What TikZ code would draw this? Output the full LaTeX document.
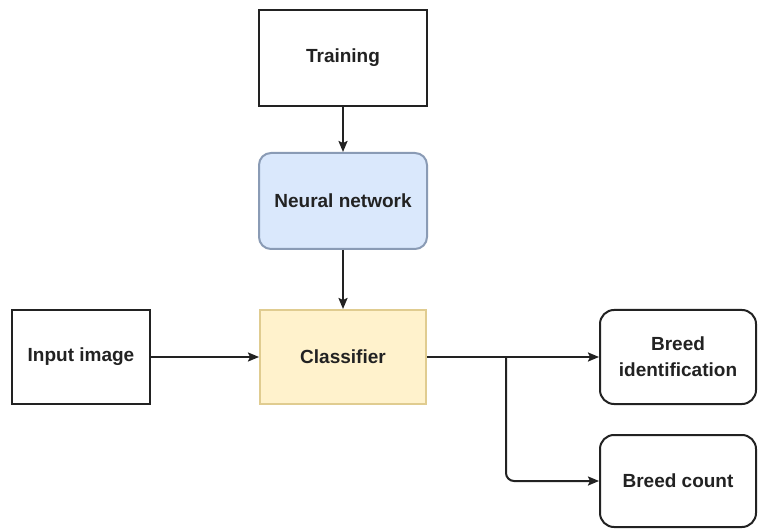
\documentclass[tikz,border=0pt]{standalone}
\usepackage{fontspec}
\setmainfont{Liberation Sans}
\usetikzlibrary{arrows.meta}
\definecolor{nnfill}{HTML}{DAE8FC}
\definecolor{nnline}{HTML}{8A9BB5}
\definecolor{clfill}{HTML}{FFF2CC}
\definecolor{clline}{HTML}{E0CC90}
\definecolor{ink}{HTML}{222222}
\begin{document}
\begin{tikzpicture}[x=1pt,y=-1pt,
  box/.style={draw=ink,line width=2pt,minimum width=#1,inner sep=0pt,align=center,font=\bfseries\fontsize{19}{26}\selectfont,text=ink},
  box/.default=168pt,
  conn/.style={draw=ink,line width=2pt,-{Stealth[length=11pt,width=9pt,inset=2pt]}},
]
\useasboundingbox (0,0) rectangle (758,529);
\fill[white] (0,0) rectangle (758,529);
\node[box, minimum height=96pt] (train) at (343,58) {Training};
\node[box, minimum height=96pt, rounded corners=12pt, fill=nnfill, draw=nnline] (nn) at (343,201) {Neural network};
\node[box=166pt, minimum height=94pt, fill=clfill, draw=clline] (cls) at (343,357) {Classifier};
\node[box=138pt, minimum height=94pt] (inp) at (81,357) {Input image};
\node[box=156pt, minimum height=94pt, rounded corners=14pt] (bid) at (678,357) {Breed\\identification};
\node[box=156pt, minimum height=92pt, rounded corners=14pt] (bc) at (678,481) {Breed count};
\coordinate (split) at (506,357);
\draw[conn] (train) -- (nn);
\draw[conn] (nn) -- (cls);
\draw[conn] (inp) -- (cls);
\draw[conn] (cls.east |- split) -- (bid.west |- split);
\draw[conn, rounded corners=8pt] (split) |- (bc.west);
\end{tikzpicture}
\end{document}
